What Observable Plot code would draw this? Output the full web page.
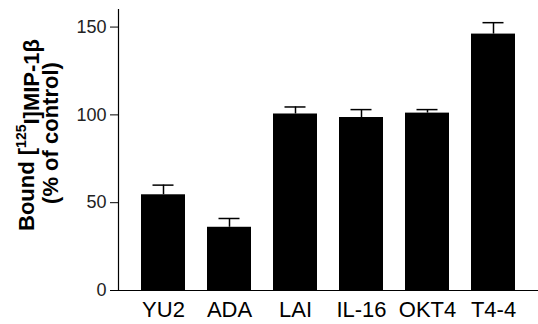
<!DOCTYPE html>
<html>
<head>
<meta charset="utf-8">
<script src="https://cdn.jsdelivr.net/npm/d3@7"></script>
<script src="https://cdn.jsdelivr.net/npm/@observablehq/plot@0.6"></script>
<style>
  html, body { margin: 0; padding: 0; background: #fff; }
  #chart svg { display: block; }
</style>
</head>
<body>
<div id="chart"></div>
<script>
const categories = ["YU2", "ADA", "LAI", "IL-16", "OKT4", "T4-4"];
const values = [54.5, 36, 100.5, 98.5, 101, 146];
const errors = [5.5, 5, 4, 4.5, 2, 6.5];
const yTicks = [0, 50, 100, 150];

const data = categories.map((c, i) => ({ cat: c, value: values[i], upper: values[i] + errors[i] }));

const font = "'Liberation Sans', Arial, sans-serif";

const chart = Plot.plot({
  width: 538,
  height: 324,
  marginLeft: 118,
  marginRight: 0,
  marginTop: 9,
  marginBottom: 34,
  style: { fontFamily: font, background: "#fff", color: "#000" },
  x: { domain: categories, padding: 0.33, label: null },
  y: { domain: [0, 160], label: null },
  marks: [
    Plot.axisY({ ticks: yTicks, tickSize: 8, tickPadding: 4, fontSize: 18, fill: "#222", label: null }),
    Plot.axisX({ tickSize: 0, tickPadding: 11, fontSize: 22, fill: "#000", label: null }),
    Plot.frame({ anchor: "left", stroke: "#000", strokeWidth: 1.2 }),
    Plot.frame({ anchor: "bottom", stroke: "#000", strokeWidth: 1.2 }),
    Plot.ruleX(data, { x: "cat", y1: "value", y2: "upper", stroke: "#000", strokeWidth: 1.5 }),
    Plot.tickY(data, { x: "cat", y: "upper", stroke: "#000", strokeWidth: 1.5, insetLeft: 11.5, insetRight: 11.5 }),
    Plot.barY(data, { x: "cat", y: "value", fill: "#000" })
  ]
});

const svg = d3.select(chart);
const t1 = svg.append("text")
  .attr("transform", "translate(34,135) rotate(-90)")
  .attr("text-anchor", "middle")
  .style("font-family", font)
  .style("font-weight", "bold")
  .style("font-size", "22px")
  .attr("fill", "#000");
t1.append("tspan").text("Bound [");
t1.append("tspan").attr("dy", "-0.6em").style("font-size", "14px").text("125");
t1.append("tspan").attr("dy", "0.6em").text("I]MIP-1β");

svg.append("text")
  .attr("transform", "translate(58,133) rotate(-90)")
  .attr("text-anchor", "middle")
  .style("font-family", font)
  .style("font-weight", "bold")
  .style("font-size", "22px")
  .attr("fill", "#000")
  .text("(% of control)");

document.getElementById("chart").appendChild(chart);
</script>
</body>
</html>
